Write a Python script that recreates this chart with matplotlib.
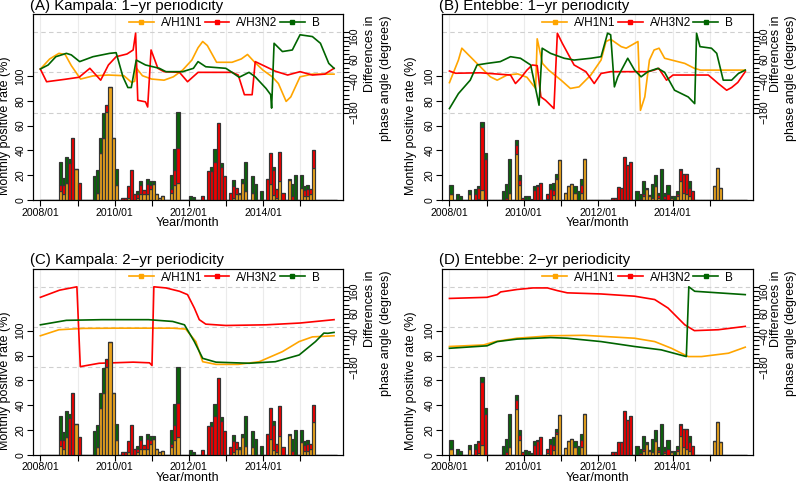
import matplotlib.pyplot as plt
from matplotlib.lines import Line2D

plt.rcParams['font.family'] = ['Liberation Sans', 'DejaVu Sans']

# months counted from 2008/01 (=0)
n_months = 96
year_ticks = [0, 12, 24, 36, 48, 60, 72, 84]
year_labels = ['2008/01', '', '2010/01', '', '2012/01', '', '2014/01', '']
series = ['A/H1N1', 'A/H3N2', 'B']

# monthly positive rate (%), stacked: H1N1 / H3N2 / B  -- {month: value}
kla_h1n1 = {6: 7, 7: 5, 8: 14, 11: 25, 18: 6, 19: 38, 20: 50, 21: 71, 22: 91, 23: 50,
            24: 12, 28: 2, 31: 2, 32: 5, 33: 5, 34: 5, 35: 9, 36: 13, 37: 5, 38: 2,
            39: 3, 42: 6, 43: 12, 44: 14, 62: 2, 63: 5, 64: 5, 65: 14, 66: 7, 68: 6,
            74: 13, 75: 4, 76: 2, 77: 15, 80: 16, 84: 10, 85: 3, 86: 3, 87: 5, 88: 26}
kla_h3n2 = {6: 5, 7: 7, 9: 30, 10: 50, 12: 14, 21: 6, 26: 2, 27: 2, 28: 9, 29: 24,
            30: 5, 31: 3, 32: 7, 33: 3, 34: 8, 35: 3, 42: 3, 43: 12, 44: 28, 52: 3.5,
            54: 23, 55: 23, 56: 31, 57: 62, 58: 27, 59: 19, 61: 6, 62: 9, 63: 5,
            73: 17, 74: 25, 75: 20, 76: 7, 77: 24, 78: 6, 81: 3, 85: 5, 86: 6, 87: 4,
            88: 14}
kla_b = {6: 19, 7: 6, 8: 21, 9: 3, 17: 19, 18: 18, 19: 12, 20: 20, 24: 13, 31: 2,
         32: 3, 34: 4, 35: 3, 36: 2, 42: 11, 43: 17, 44: 29, 48: 3.5, 49: 2.5,
         55: 3.5, 56: 10, 58: 3, 62: 5, 64: 1, 65: 3, 66: 24, 68: 13, 69: 13, 71: 7,
         75: 3, 80: 1, 81: 10, 82: 20, 84: 10, 85: 3, 86: 3}

ebb_h1n1 = {0: 5, 6: 5, 9: 1, 10: 8, 19: 6, 21: 37, 22: 12, 31: 1, 33: 4, 34: 17,
            35: 32, 37: 5.5, 38: 11, 39: 13, 40: 6, 42: 6, 43: 33, 62: 3, 63: 9,
            64: 3, 65: 2, 66: 11, 67: 2, 69: 1, 71: 2, 73: 3, 74: 15, 75: 6, 76: 5,
            77: 3, 85: 11, 86: 26, 87: 10}
ebb_h3n2 = {8: 5, 9: 9, 10: 51, 11: 33, 18: 2, 21: 7, 22: 4, 23: 2, 27: 8, 28: 11,
            29: 14, 31: 4, 32: 9, 33: 4, 34: 1, 42: 6, 52: 2, 53: 2, 54: 10.5, 55: 10,
            56: 35, 57: 28, 58: 31, 61: 1, 62: 2, 64: 1, 67: 2, 69: 2, 70: 5, 73: 2,
            74: 9, 75: 15, 76: 16, 77: 7, 78: 7}
ebb_b = {0: 7, 2: 5, 3: 3, 6: 3, 8: 4, 9: 1, 10: 4, 11: 5, 17: 7, 18: 11, 19: 27,
         21: 4, 22: 4, 24: 3.5, 25: 3, 26: 1, 27: 3, 28: 1, 32: 4, 33: 6, 34: 3,
         40: 5, 41: 7, 42: 5, 60: 7, 61: 4, 62: 10, 63: 1, 65: 11, 66: 9, 67: 2,
         68: 25, 69: 3, 70: 7, 71: 1, 72: 3, 73: 2, 74: 1, 77: 5}

# differences in phase angle (degrees): (months, degrees) per series
a_h1n1_m = [0, 3, 6, 8, 10, 13, 17, 22, 27, 29.5, 30.5, 31, 33, 36, 40, 43, 46, 49, 51,
            52.5, 54, 57, 62, 65, 67, 69, 72, 75, 77, 79.5, 81, 84, 88, 95]
a_h1n1_d = [15, 60, 85, 80, 30, -30, -16, -12, -15, -45, -40, 20, -15, -30, -35, -20,
            10, 55, 110, 138, 120, 45, 45, 60, 80, 50, 10, -20, -50, -130, -110, -20,
            -8, -8]
a_h3n2_m = [0, 2, 8, 12.5, 16, 19.5, 22, 24.5, 28, 30, 30.8, 31.5, 34, 34.7, 35.8, 38,
            40, 45, 47.6, 51, 62, 64, 66, 68.5, 69.5, 73, 76, 80, 84, 88, 92, 95]
a_h3n2_d = [14, -42, -31, -22, 18, -35, 33, 70, 82, 100, 175, -125, -132, -155, 100,
            18, 3, 0, -42, 0, 0, -12, -100, -100, 48, 25, 5, -12, 3, -12, -8, 18]
a_b_m = [0, 2.5, 5, 8.4, 10, 12.7, 17, 22.4, 24.5, 26.7, 28.3, 29.4, 31, 34, 38.5, 40.6,
         46, 49.5, 51, 53.5, 60, 62, 64.3, 67.5, 69.5, 73, 74.5, 74.8, 75.6, 78.3,
         81.5, 84, 88, 90.6, 93.3, 95]
a_b_d = [15, 33, 70, 85, 78, 48, 70, 85, 88, -20, -68, -68, 55, 33, 18, 3, 3, 18, 48,
         25, 18, 0, -22, 0, -20, -72, -100, -160, 130, 93, 100, 168, 160, 130, 40, 18]

b_h1n1_m = [0, 2.9, 4, 8.3, 13.2, 15.4, 18.6, 22, 25, 27.8, 28.3, 30, 32, 36, 39, 41.8,
            45.6, 48.9, 50.5, 52, 55.4, 57, 60.8, 61.6, 63, 64.5, 66, 67.6, 69.4, 75.9,
            79, 81, 95.4]
b_h1n1_d = [-46, 55, 108, 48, -20, -35, -12, -7, -22, -72, 150, 40, 10, -35, -72, -65,
            -12, 55, 138, 148, 115, 108, 138, -170, -110, 55, 100, 108, 63, 40, 18, 10,
            10]
b_h3n2_m = [0, 2, 10, 19.7, 21.3, 23, 25, 26.7, 28.3, 29.5, 31, 33.7, 34.8, 36.4, 40.2,
            44, 46.7, 48.9, 52, 64, 66, 67.5, 70, 72.1, 79, 83.5, 86.7, 89.4, 91, 93,
            95.4]
b_h3n2_d = [6, -4, -2, -12, -50, -25, 10, 33, 30, -110, -125, -162, 175, 130, 33, 3,
            -50, -5, 3, 3, 10, 18, -35, -12, -12, -12, -50, -80, -68, -45, 3]
b_b_m = [0, 2.9, 6.7, 8.9, 12.1, 16.4, 19.7, 22.9, 26.2, 28.9, 29.9, 32.6, 37, 40.2,
         45.6, 48.9, 51, 52, 53.2, 54.3, 57.5, 59.7, 61.8, 64, 67.2, 69.4, 72.6, 77,
         79.1, 79.7, 80.8, 84.5, 86.2, 88.3, 91, 93.2, 95.4]
b_b_d = [-162, -95, -35, 33, 40, 48, 70, 63, 33, -147, 108, 85, 63, 55, 63, 70, 175,
         168, -65, -20, 63, 10, -20, 3, 18, 0, -80, -110, -140, 175, 115, 108, 85, -35,
         -35, -5, 10]

c_h1n1_m = [0, 6, 14, 25, 42.8, 47, 50.3, 52.5, 56.8, 64, 70.8, 78.3, 83.7, 88, 95]
c_h1n1_d = [-39, -12, -6, -5, -5, -9, -65, -155, -167, -167, -155, -110, -65, -44, -39]
c_h3n2_m = [0, 6.2, 11.8, 12.9, 19, 30, 35.3, 36.1, 36.7, 40.6, 45, 47.6, 49.8, 51.4,
            53.5, 60, 73, 84, 95]
c_h3n2_d = [133, 165, 180, -177, -162, -157, -160, -172, 180, 175, 160, 145, 85, 33,
            13, 7, 10, 18, 33]
c_b_m = [0, 8.4, 20, 35, 42.8, 46.6, 49.8, 52.5, 56.8, 67.5, 76, 83.7, 89, 91.7, 93, 95]
c_b_d = [10, 30, 33, 33, 25, 10, -65, -140, -157, -162, -155, -125, -65, -27, -28, -24]

d_h1n1_m = [0, 11, 14.8, 21.8, 32.6, 43.5, 59.7, 66.2, 71.6, 77, 81.3, 90, 95.4]
d_h1n1_d = [-87, -80, -65, -50, -39, -37, -50, -65, -95, -132, -132, -117, -90]
d_h3n2_m = [0, 12.1, 15.4, 16.5, 21.8, 27, 31.6, 34.8, 38, 48.9, 59.7, 66.2, 70.5, 75.9,
            79, 86.7, 95.4]
d_h3n2_d = [128, 133, 145, 157, 168, 175, 175, 163, 153, 148, 138, 123, 85, 10, -16,
            -12, 3]
d_b_m = [0, 12.1, 15.4, 21.8, 32.6, 38, 48.9, 59.7, 68.3, 76.4, 77.2, 79.1, 86.7, 95.4]
d_b_d = [-95, -84, -65, -54, -47, -50, -65, -87, -102, -132, 180, 160, 153, 145]

line_cols = ['#FFA500', '#FF0000', '#006400']
bar_cols = ['#EBA31C', '#EE0000', '#0B640B']


def monthly(d):
    return [d.get(m, 0) for m in range(n_months)]


def panel(pos, title, bars, curves, leg_x, ylab_x, rlab_x):
    ax = fig.add_axes(pos)
    ax2 = ax.twinx()
    ax.set_zorder(ax2.get_zorder() + 1)
    ax.patch.set_visible(False)

    months = list(range(n_months))
    o, r, g = [monthly(d) for d in bars]
    og = [a + b for a, b in zip(o, r)]
    kw = dict(width=1, align='edge', edgecolor='#353535', linewidth=0.85)
    ax.bar(months, o, color=bar_cols[0], **kw)
    ax.bar(months, r, bottom=o, color=bar_cols[1], **kw)
    ax.bar(months, g, bottom=og, color=bar_cols[2], **kw)

    for t in year_ticks:
        ax2.axvline(t, color='#EBEBEB', lw=0.8, zorder=0)
    for hl in (-180, 0, 180):
        ax2.axhline(hl, color='#CFCFCF', lw=0.8, ls=(0, (4, 3)), zorder=1)
    for (mm, dd), c in zip(curves, line_cols):
        ax2.plot(mm, dd, color=c, lw=1.2, zorder=3)

    ax.set_xlim(-2.4, 97.9)
    ax.set_ylim(0, 150)
    ax2.set_ylim(-571, 261)

    ax.set_xticks(year_ticks, year_labels)
    ax.set_yticks([0, 20, 40, 60, 80, 100])
    ax.tick_params(axis='both', direction='out', length=4, width=0.8, labelsize=7.6,
                   pad=1.5)
    for lab in ax.get_yticklabels():
        lab.set_rotation(90)
        lab.set_va('center')
    rt = list(range(-180, 181, 20))
    ax2.set_yticks(rt, [str(v).replace('-', '\u2212') if v in (-180, -40, 60, 160) else ''
                        for v in rt])
    ax2.tick_params(axis='y', direction='out', length=4, width=0.8, labelsize=7.6, pad=0.5)
    for lab in ax2.get_yticklabels():
        lab.set_rotation(90)
        lab.set_va('center')
    for sp in list(ax.spines.values()) + list(ax2.spines.values()):
        sp.set_linewidth(0.8)

    ax.text(-0.01, 1.024, title, transform=ax.transAxes, ha='left', va='baseline',
            fontsize=10.8)
    ax.text(ylab_x, 0.398, 'Monthly positive rate (%)', transform=ax.transAxes,
            rotation=90, ha='center', va='center', fontsize=9)
    ax.text(0.5, -0.124, 'Year/month', transform=ax.transAxes, ha='center',
            va='center', fontsize=9)
    ax.text(rlab_x, 0.99, 'Differences in\nphase angle (degrees)', transform=ax.transAxes,
            rotation=90, ha='center', va='top', multialignment='right', fontsize=9,
            linespacing=1.35)

    handles = [Line2D([], [], color=c, lw=1.2, marker='s', markersize=3.5)
               for c in line_cols]
    ax.legend(handles, series, ncol=3, loc='center right', bbox_to_anchor=(leg_x, 0.952),
              frameon=False, fontsize=8.5, handlelength=2.1, handletextpad=0.6,
              columnspacing=0.2, borderpad=0, borderaxespad=0)


fig = plt.figure(figsize=(8, 4.84), dpi=100)
top_b = (484 - 200) / 484
bot_b = (484 - 454.7) / 484
h = 186 / 484

kla = (kla_h1n1, kla_h3n2, kla_b)
ebb = (ebb_h1n1, ebb_h3n2, ebb_b)

panel([33 / 800, top_b, 310 / 800, h], '(A) Kampala: 1\u2212yr periodicity', kla,
      [(a_h1n1_m, a_h1n1_d), (a_h3n2_m, a_h3n2_d), (a_b_m, a_b_d)], 0.925, -0.089, 1.113)
panel([442 / 800, top_b, 311 / 800, h], '(B) Entebbe: 1\u2212yr periodicity', ebb,
      [(b_h1n1_m, b_h1n1_d), (b_h3n2_m, b_h3n2_d), (b_b_m, b_b_d)], 0.936, -0.1, 1.097)
panel([33 / 800, bot_b, 310 / 800, h], '(C) Kampala: 2\u2212yr periodicity', kla,
      [(c_h1n1_m, c_h1n1_d), (c_h3n2_m, c_h3n2_d), (c_b_m, c_b_d)], 0.925, -0.089, 1.113)
panel([442 / 800, bot_b, 311 / 800, h], '(D) Entebbe: 2\u2212yr periodicity', ebb,
      [(d_h1n1_m, d_h1n1_d), (d_h3n2_m, d_h3n2_d), (d_b_m, d_b_d)], 0.936, -0.1, 1.097)

fig.savefig('out.png', dpi=100)
